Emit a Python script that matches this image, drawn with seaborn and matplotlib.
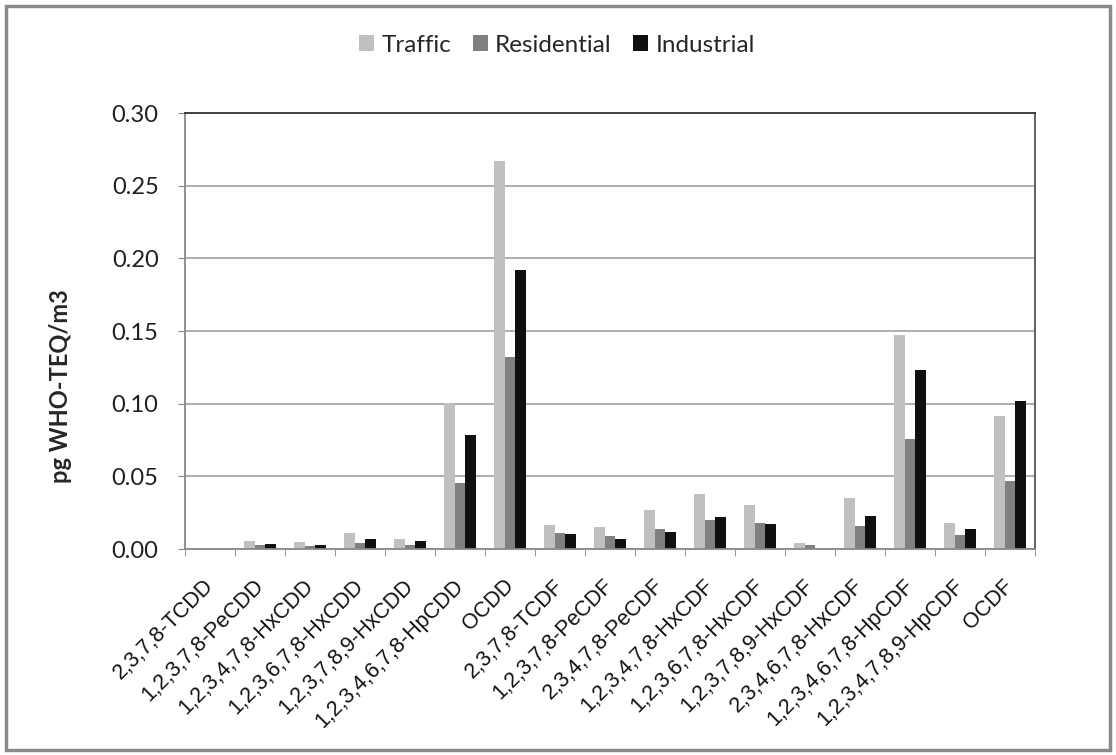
import numpy as np
import pandas as pd
import matplotlib
matplotlib.use("Agg")
import matplotlib.pyplot as plt
import matplotlib.transforms as mtrans
from matplotlib.patches import Rectangle
import seaborn as sns

categories = ["2,3,7,8-TCDD", "1,2,3,7,8-PeCDD", "1,2,3,4,7,8-HxCDD", "1,2,3,6,7,8-HxCDD",
              "1,2,3,7,8,9-HxCDD", "1,2,3,4,6,7,8-HpCDD", "OCDD", "2,3,7,8-TCDF",
              "1,2,3,7,8-PeCDF", "2,3,4,7,8-PeCDF", "1,2,3,4,7,8-HxCDF", "1,2,3,6,7,8-HxCDF",
              "1,2,3,7,8,9-HxCDF", "2,3,4,6,7,8-HxCDF", "1,2,3,4,6,7,8-HpCDF",
              "1,2,3,4,7,8,9-HpCDF", "OCDF"]
traffic = [0.0, 0.0057, 0.0046, 0.011, 0.0067, 0.1005, 0.267, 0.0165, 0.015, 0.027,
           0.0376, 0.0306, 0.0039, 0.035, 0.147, 0.0177, 0.0917]
residential = [0.0, 0.0025, 0.002, 0.0044, 0.0025, 0.0456, 0.132, 0.011, 0.009, 0.0135,
               0.020, 0.018, 0.0025, 0.0155, 0.076, 0.0093, 0.047]
industrial = [0.0, 0.0037, 0.0028, 0.0067, 0.0055, 0.0784, 0.192, 0.010, 0.0067, 0.0117,
              0.0218, 0.017, 0.0, 0.023, 0.123, 0.0137, 0.102]
series = ["Traffic", "Residential", "Industrial"]
colors = ["#c0c0c0", "#808080", "#101010"]

df = pd.DataFrame({
    "cat": categories * 3,
    "val": traffic + residential + industrial,
    "series": [s for s in series for _ in categories],
})

sns.set_style("white")
plt.rcParams["font.family"] = ["Lato", "DejaVu Sans"]

W, H = 1116, 755
fig = plt.figure(figsize=(W / 100, H / 100), dpi=100)
ax = fig.add_axes([185 / W, 1 - 549 / H, (1035 - 185) / W, (549 - 113) / H])

sns.barplot(data=df, x="cat", y="val", hue="series", palette=colors, width=0.64,
            saturation=1, ax=ax, order=categories, hue_order=series, legend=True,
            linewidth=0, gap=0)

ax.set_ylim(0, 0.30)
ax.set_xlim(-0.5, len(categories) - 0.5)
yt = np.arange(0, 0.301, 0.05)
ax.set_yticks(yt)
ax.set_yticklabels([f"{v:.2f}" for v in yt], fontsize=17, color="#202020")
ax.yaxis.grid(True, color="#a8a8a8", linewidth=1.3)
ax.set_axisbelow(True)
ax.set_xlabel("")
ax.set_ylabel("pg WHO-TEQ/m3", fontsize=17, fontweight="bold")
ax.yaxis.set_label_coords((72 - 185) / 850, (549 - 386) / 436)

ax.set_xticks(np.arange(-0.5, len(categories), 1), minor=True)
ax.tick_params(axis="x", which="minor", length=5, color="#888888", direction="out", bottom=True)
ax.tick_params(axis="y", length=5, color="#888888", direction="out", left=True, pad=14)
ax.tick_params(axis="x", which="major", length=0, pad=19,
               labelfontfamily="Liberation Sans", labelsize=15.5, labelcolor="#111111")

ax.set_xticks(range(len(categories)))
ax.set_xticklabels(categories, rotation=45, ha="right", rotation_mode="anchor",
                   fontsize=15.5, fontfamily="Liberation Sans", color="#111111")
offset = mtrans.ScaledTranslation(-7 / 100, 0, fig.dpi_scale_trans)
for lab in ax.get_xticklabels():
    lab.set_transform(lab.get_transform() + offset)

for s in ax.spines.values():
    s.set_color("#888888")
    s.set_linewidth(1.3)
ax.spines["top"].set_color("#333333")
ax.spines["right"].set_color("#555555")

ax.legend(loc="center", bbox_to_anchor=(557 / W, 1 - 45 / H),
          bbox_transform=fig.transFigure, ncol=3, frameon=False, fontsize=17.5,
          handlelength=0.6, handleheight=0.6, handletextpad=0.3, columnspacing=0.9)

fig.patches.append(Rectangle((6 / W, 5 / H), 1104 / W, 744 / H,
                             transform=fig.transFigure, fill=False,
                             edgecolor="#8a8a8a", linewidth=2.5))

fig.savefig("out.png", dpi=100)
